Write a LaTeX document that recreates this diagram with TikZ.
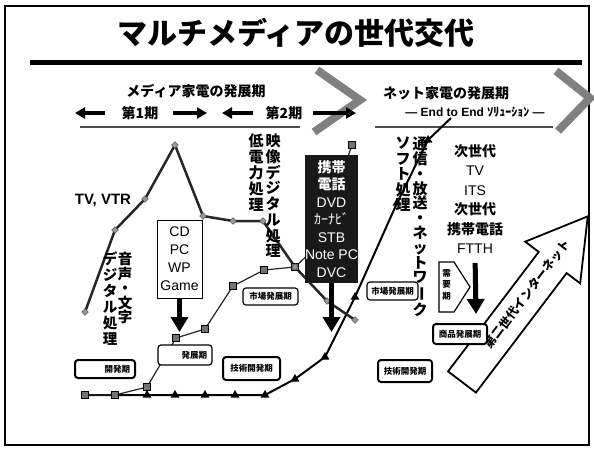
\documentclass[tikz,border=0pt]{standalone}
\usepackage{fontspec}
\setmainfont{Liberation Sans}
\newfontfamily\jp{Noto Sans CJK JP}
\usepackage{tikz}
\usetikzlibrary{arrows.meta,shapes.geometric}
\tikzstyle{dmark}=[diamond,fill=black!40,draw=black!75,minimum size=7pt,inner sep=0pt]
\tikzstyle{smark}=[rectangle,fill=black!55,draw=black,minimum size=7pt,inner sep=0pt]
\tikzstyle{tmark}=[regular polygon,regular polygon sides=3,fill=black,minimum size=10pt,inner sep=0pt]
\tikzstyle{phase}=[draw,line width=1.2pt,rounded corners=3pt,fill=white,inner sep=1pt,font=\jp\bfseries\fontsize{8.5}{9}\selectfont]
\tikzstyle{tate}=[align=center,inner sep=0pt,anchor=north,font=\jp\bfseries\fontsize{15}{15.5}\selectfont]
\tikzstyle{hdarrow}=[draw,line width=3.5pt,-{Triangle[width=11pt,length=10pt]}]
\tikzstyle{bigarrow}=[draw,line width=5pt,-{Triangle[width=17pt,length=15pt]}]
\tikzstyle{chevron}=[draw=black!50,line width=8pt]

\begin{document}
\begin{tikzpicture}[x=1pt,y=-1pt]
  \fill[white] (0,0) rectangle (594,450);
  \useasboundingbox (0,0) rectangle (594,450);
  \draw[line width=1.5pt] (5,6) rectangle (589,445);

  % title
  \node[font=\jp\bfseries\fontsize{30}{30}\selectfont] (title) at (296,33) {マルチメディアの世代交代};
  \draw[line width=5pt] (30,62) -- (582,62);

  % chevrons
  \draw[chevron] (317,70) -- (360,100) -- (314,132);
  \draw[chevron] (556,71) -- (590,98) -- (558,131);

  % headers
  \node[font=\jp\bfseries\fontsize{14}{14}\selectfont] (media) at (196,91) {メディア家電の発展期};
  \node[font=\jp\bfseries\fontsize{14}{14}\selectfont] (net) at (446,93) {ネット家電の発展期};
  \node[font=\bfseries\fontsize{12}{12}\selectfont] (e2e) at (475,112) {— End to End {\jp ｿﾘｭｰｼｮﾝ} —};
  \node[font=\jp\bfseries\fontsize{14}{14}\selectfont] (ki1) at (140,113) {第1期};
  \node[font=\jp\bfseries\fontsize{14}{14}\selectfont] (ki2) at (284,113) {第2期};
  \coordinate (h1a) at (105,113); \coordinate (h1b) at (75,113);
  \coordinate (h2a) at (173,113); \coordinate (h2b) at (207,113);
  \coordinate (h3a) at (253,113); \coordinate (h3b) at (222,113);
  \coordinate (h4a) at (313,113); \coordinate (h4b) at (356,113);
  \draw[hdarrow] (h1a) -- (h1b);
  \draw[hdarrow] (h2a) -- (h2b);
  \draw[hdarrow] (h3a) -- (h3b);
  \draw[hdarrow] (h4a) -- (h4b);
  \draw[black!70,line width=1.5pt] (80,127) -- (300,127);
  \draw[black!70,line width=1.5pt] (375,127) -- (553,127);

  % curves
  \foreach \pos/\name in {{(85,312)/a1},{(115,230)/a2},{(145,199)/a3},{(175,145)/a4},{(203,216)/a5},
      {(233,221)/a6},{(263,221)/a7},{(295,267)/a8},{(327,301)/a9},{(355,320)/a10}}
    \path \pos coordinate (\name);
  \foreach \pos/\name in {{(85,395)/b1},{(115,395)/b2},{(147,387)/b3},{(176,338)/b4},{(205,329)/b5},
      {(233,286)/b6},{(264,270)/b7},{(295,267)/b8},{(318,245)/b9},{(352,145)/b10}}
    \path \pos coordinate (\name);
  \foreach \pos/\name in {{(85,395)/c1},{(147,395)/c2},{(175,395)/c3},{(205,395)/c4},{(235,395)/c5},
      {(265,395)/c6},{(295,379)/c7},{(325,357)/c8},{(355,297)/c9},{(397,203)/c10},{(428,140)/c11},{(451,118)/c12}}
    \path \pos coordinate (\name);

  \draw[line width=2pt,line join=round] (c1) -- (c2) -- (c3) -- (c4) -- (c5) -- (c6) -- (c7) -- (c8) -- (c9) -- (c10) -- (c11) -- (c12);
  \draw[line width=1.2pt,black!85] (b1) -- (b2) -- (b3) -- (b4) -- (b5) -- (b6) -- (b7) -- (b8) -- (b9) -- (b10);
  \draw[line width=2.5pt,black!85,line join=round] (a1) -- (a2) -- (a3) -- (a4) -- (a5) -- (a6) -- (a7) -- (a8) -- (a9) -- (a10);

  \foreach \k in {2,...,11}
    \node[tmark] (mc\k) at (c\k) {};
  \foreach \k in {1,2,3,4,5,6,7,8,10}
    \node[smark] (mb\k) at (b\k) {};
  \foreach \k in {1,...,10}
    \node[dmark] (ma\k) at (a\k) {};

  % labels
  \node[font=\bfseries\fontsize{15}{15}\selectfont] (tv) at (103,200) {TV, VTR};
  \node[tate,font=\jp\bfseries\fontsize{14.5}{14.5}\selectfont] (onsei) at (125,252) {音\\声\\・\\文\\字};
  \node[tate,font=\jp\bfseries\fontsize{14.5}{16}\selectfont] (digi1) at (110,252) {デ\\ジ\\タ\\ル\\処\\理};
  \node[tate,font=\jp\bfseries\fontsize{15}{16}\selectfont] (teiden) at (256,134) {低\\電\\力\\処\\理};
  \node[tate,font=\jp\bfseries\fontsize{15}{15.7}\selectfont] (eizo) at (273,134) {映\\像\\デ\\ジ\\タ\\ル\\処\\理};
  \node[tate] (soft) at (403,137) {ソ\\フ\\ト\\処\\理};
  \node[tate,font=\jp\bfseries\fontsize{15}{14.8}\selectfont] (tsushin) at (420,137)
    {通\\信\\・\\放\\送\\・\\ネ\\ッ\\ト\\ワ\\\rotatebox[origin=c]{-90}{ー}\\ク};

  \node[draw,line width=1pt,fill=white,minimum width=45pt,minimum height=78pt,align=center,inner sep=0pt,
    font=\fontsize{14}{18}\selectfont] (pc) at (179.5,259) {CD\\PC\\WP\\Game};
  \coordinate (pcend) at (179.5,332);
  \draw[bigarrow] (pc.south) -- (pcend);

  \node[fill=black!90,minimum width=53pt,minimum height=128pt,text=white,align=center,inner sep=0pt,
    font=\fontsize{14}{17.5}\selectfont] (mobile) at (331.5,219)
    {{\jp\bfseries 携帯}\\{\jp\bfseries 電話}\\DVD\\{\jp ｶｰﾅﾋﾞ}\\STB\\\makebox[0pt]{Note PC}\\DVC};
  \coordinate (mobileend) at (331.5,332);
  \draw[bigarrow] (mobile.south) -- (mobileend);

  \node[align=center,inner sep=0pt,font=\fontsize{14}{19.5}\selectfont] (nextgen) at (475,199)
    {{\jp\bfseries 次世代}\\TV\\ITS\\{\jp\bfseries 次世代}\\{\jp\bfseries 携帯電話}\\FTTH};
  \coordinate (nextend) at (476,314);
  \draw[bigarrow,shorten <=9pt] (nextgen.south) -- (nextend);

  % demand arrow
  \draw[line width=1.2pt,fill=white] (439,262) -- (454,262) -- (470,287) -- (454,312) -- (439,312) -- cycle;
  \node[tate,font=\jp\bfseries\fontsize{8.5}{11.5}\selectfont] (juyo) at (446.5,269) {需\\要\\期};

  % internet arrow
  \begin{scope}[shift={(462,382)},rotate=52.8]
    \draw[line width=1.8pt,fill=white] (0,-17.5) -- (150,-17.5) -- (150,-34.5) -- (208,0) -- (150,34.5) -- (150,17.5) -- (0,17.5) -- cycle;
  \end{scope}
  \node[rotate=52.8,font=\jp\bfseries\fontsize{12}{12}\selectfont] (inet) at (527,294) {第二世代インターネット};

  % phase boxes
  \node[phase,line width=2pt,text width=50pt,inner xsep=5pt,minimum height=18pt,align=right] (kaihatsu) at (105,369) {開発期};
  \node[phase,text width=44pt,inner xsep=5pt,minimum height=20pt,align=right] (hatten) at (185,355) {発展期};
  \node[phase,line width=2pt,minimum width=57pt,minimum height=23pt] (gijutsu1) at (251.5,368.5) {技術開発期};
  \node[phase,minimum width=55pt,minimum height=17pt] (shijo1) at (270.5,296.5) {市場発展期};
  \node[phase,minimum width=51pt,minimum height=18pt] (shijo2) at (392.5,291) {市場発展期};
  \node[phase,line width=2pt,minimum width=54pt,minimum height=22pt] (gijutsu2) at (405,371) {技術開発期};
  \node[phase,line width=2pt,minimum width=54pt,minimum height=20pt] (shohin) at (460,334) {商品発展期};

\end{tikzpicture}
\end{document}
